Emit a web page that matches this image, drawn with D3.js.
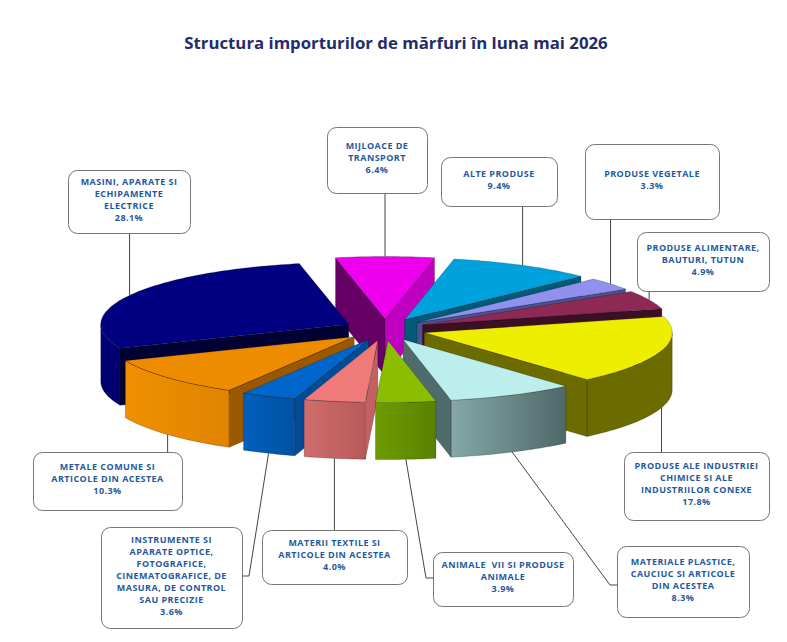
<!DOCTYPE html>
<html>
<head>
<meta charset="utf-8">
<script src="https://cdn.jsdelivr.net/npm/d3@7"></script>
<style>
  body { margin: 0; background: #fff; }
  svg { display: block; }
</style>
</head>
<body>
<script>
// slices, clockwise from the top (Excel order as drawn)
const categories = [
    'Mijloace de transport', 'Alte produse', 'Produse vegetale',
    'Produse alimentare, bauturi, tutun', 'Produse ale industriei chimice',
    'Materiale plastice, cauciuc', 'Animale vii si produse animale',
    'Materii textile', 'Instrumente si aparate', 'Metale comune',
    'Masini, aparate si echipamente electrice'
];
const shares = [6.4, 9.4, 3.3, 4.9, 17.8, 8.3, 3.9, 4.0, 3.6, 10.3, 28.1];
const labelLines = [
    ['MIJLOACE DE', 'TRANSPORT'],
    ['ALTE PRODUSE'],
    ['PRODUSE VEGETALE'],
    ['PRODUSE ALIMENTARE,', 'BAUTURI, TUTUN'],
    ['PRODUSE ALE INDUSTRIEI', 'CHIMICE SI ALE', 'INDUSTRIILOR CONEXE'],
    ['MATERIALE PLASTICE,', 'CAUCIUC SI ARTICOLE', 'DIN ACESTEA'],
    ['ANIMALE  VII SI PRODUSE', 'ANIMALE'],
    ['MATERII TEXTILE SI', 'ARTICOLE DIN ACESTEA'],
    ['INSTRUMENTE SI', 'APARATE OPTICE,', 'FOTOGRAFICE,', 'CINEMATOGRAFICE, DE', 'MASURA, DE CONTROL', 'SAU PRECIZIE'],
    ['METALE COMUNE SI', 'ARTICOLE DIN ACESTEA'],
    ['MASINI, APARATE SI', 'ECHIPAMENTE', 'ELECTRICE']
];

// colours per slice
const topColors   = ['#ee00ee', '#00a2de', '#9090ee', '#8c2a55', '#eeee00', '#bdeeee', '#8cbe00', '#f07a7a', '#0066cc', '#ee8c00', '#000080'];
const startWalls  = ['#660066', '#005a78', '#50508f', '#3c1024', '#6b6b00', '#4f6b6b', '#5a7e00', '#c06262', '#004c99', '#9a5800', '#000033'];
const endWalls    = ['#c000c0', '#005a78', '#50508f', '#3c1024', '#6b6b00', '#4f6b6b', '#5a7e00', '#c06262', '#004c99', '#9a5800', '#000033'];
const outerLight  = ['#c000c0', '#0080b0', '#7070c0', '#5a1a35', '#6b6b00', '#86a8a8', '#6e9c00', '#d06c6c', '#0060bc', '#f09000', '#000074'];
const outerDark   = ['#c000c0', '#0080b0', '#7070c0', '#5a1a35', '#6b6b00', '#4e6868', '#5a8200', '#b85a5a', '#0052a4', '#e08400', '#00006c'];

// callout boxes: x, y, w, h, side the leader leaves from, and y of elbow
const callouts = [
    { x: 327, y: 127, w: 100, h: 66, side: 'bottom' },
    { x: 441, y: 157, w: 116, h: 49, side: 'bottom' },
    { x: 585, y: 144, w: 134, h: 75, side: 'bottom' },
    { x: 637, y: 232, w: 132, h: 59, side: 'bottom' },
    { x: 624, y: 452, w: 145, h: 68, side: 'top' },
    { x: 617, y: 546, w: 132, h: 71, side: 'left', ly: 585 },
    { x: 433, y: 552, w: 140, h: 54, side: 'left', ly: 578 },
    { x: 262, y: 530, w: 145, h: 54, side: 'top' },
    { x: 101, y: 527, w: 141, h: 101, side: 'right', ly: 576 },
    { x: 33, y: 452, w: 149, h: 58, side: 'top' },
    { x: 68, y: 170, w: 122, h: 63, side: 'bottom' }
];

const width = 787, height = 642;
const cx = 385, cy = 329.5, rx = 248, ry = 62, depth = 57;
const explodeX = 41, explodeY = 11;

const svg = d3.select('body')
    .append('svg')
    .attr('width', width)
    .attr('height', height);

svg.append('text')
    .attr('x', 396)
    .attr('y', 49)
    .attr('text-anchor', 'middle')
    .attr('fill', '#1f2d6b')
    .style('font-family', '"Open Sans", sans-serif')
    .style('font-weight', 'bold')
    .style('font-size', '16.8px')
    .text('Structura importurilor de mărfuri în luna mai 2026');

const first = shares[0] / 100 * Math.PI;
const pie = d3.pie()
    .sort(null)
    .value(d => d)
    .startAngle(-first)
    .endAngle(2 * Math.PI - first);
const arcs = pie(shares);

const mid = d => (d.startAngle + d.endAngle) / 2;

function pt(d, a, r, h) {
    const m = mid(d);
    const ox = explodeX * Math.sin(m), oy = -explodeY * Math.cos(m);
    return [cx + ox + r * rx * Math.sin(a), cy + oy - r * ry * Math.cos(a) + h];
}

function arcPts(d, a0, a1, h) {
    const n = Math.max(2, Math.ceil(Math.abs(a1 - a0) / 0.02));
    return d3.range(n + 1).map(i => pt(d, a0 + (a1 - a0) * i / n, 1, h));
}

const line = d3.line();
const closed = p => line(p) + 'Z';
const defs = svg.append('defs');
const pieG = svg.append('g');

// back slices first
const order = d3.range(arcs.length).sort((a, b) => -Math.cos(mid(arcs[a])) + Math.cos(mid(arcs[b])));

order.forEach(i => {
    const d = arcs[i];
    const s = d.startAngle, e = d.endAngle;
    const g = pieG.append('g')
        .attr('stroke', 'rgba(0,0,0,0.35)')
        .attr('stroke-width', 0.6)
        .attr('stroke-linejoin', 'round');

    const a0 = Math.max(s, Math.PI / 2), a1 = Math.min(e, 3 * Math.PI / 2);
    if (a1 > a0) {
        const pts = arcPts(d, a0, a1, 0).concat(arcPts(d, a1, a0, depth));
        const xs = d3.extent(pts, p => p[0]);
        const grad = defs.append('linearGradient')
            .attr('id', 'side' + i)
            .attr('gradientUnits', 'userSpaceOnUse')
            .attr('x1', xs[0]).attr('x2', xs[1])
            .attr('y1', 0).attr('y2', 0);
        grad.append('stop').attr('offset', 0).attr('stop-color', outerLight[i]);
        grad.append('stop').attr('offset', 1).attr('stop-color', outerDark[i]);
        g.append('path').attr('d', closed(pts)).attr('fill', `url(#side${i})`);
    }
    if (Math.sin(s) < 0) {
        g.append('path')
            .attr('d', closed([pt(d, s, 0, 0), pt(d, s, 1, 0), pt(d, s, 1, depth), pt(d, s, 0, depth)]))
            .attr('fill', startWalls[i]);
    }
    if (Math.sin(e) > 0) {
        g.append('path')
            .attr('d', closed([pt(d, e, 0, 0), pt(d, e, 1, 0), pt(d, e, 1, depth), pt(d, e, 0, depth)]))
            .attr('fill', endWalls[i]);
    }
    g.append('path')
        .attr('d', closed([pt(d, s, 0, 0)].concat(arcPts(d, s, e, 0))))
        .attr('fill', topColors[i]);
});

// callouts
const labelG = svg.append('g');
arcs.forEach((d, i) => {
    const c = callouts[i];
    const m = mid(d);
    const anchor = pt(d, m, 1, Math.cos(m) < 0 ? depth : 0);
    let pts;
    if (c.side === 'bottom') pts = [[anchor[0], c.y + c.h], anchor];
    else if (c.side === 'top') pts = [[anchor[0], c.y], anchor];
    else if (c.side === 'left') pts = [[c.x, c.ly], [c.x - 7, c.ly], anchor];
    else pts = [[c.x + c.w, c.ly], [c.x + c.w + 7, c.ly], anchor];

    labelG.append('path')
        .attr('d', line(pts))
        .attr('fill', 'none')
        .attr('stroke', '#444')
        .attr('stroke-width', 1);

    labelG.append('rect')
        .attr('x', c.x + 0.5).attr('y', c.y + 0.5)
        .attr('width', c.w).attr('height', c.h)
        .attr('rx', 9)
        .attr('fill', '#fff')
        .attr('stroke', '#777')
        .attr('stroke-width', 1);

    const lines = labelLines[i].concat([d3.format('.1f')(d.data) + '%']);
    const lh = 12;
    const y0 = c.y + c.h / 2 - (lines.length - 1) / 2 * lh + 1;
    labelG.append('text')
        .attr('text-anchor', 'middle')
        .attr('fill', '#1f5a9e')
        .style('font-family', '"Open Sans", sans-serif')
        .style('font-weight', 'bold')
        .style('font-size', '9px')
        .style('letter-spacing', '0.45px')
        .style('white-space', 'pre')
        .selectAll('tspan')
        .data(lines)
        .join('tspan')
        .attr('x', c.x + c.w / 2)
        .attr('y', (t, k) => y0 + k * lh)
        .text(t => t);
});
</script>
</body>
</html>
